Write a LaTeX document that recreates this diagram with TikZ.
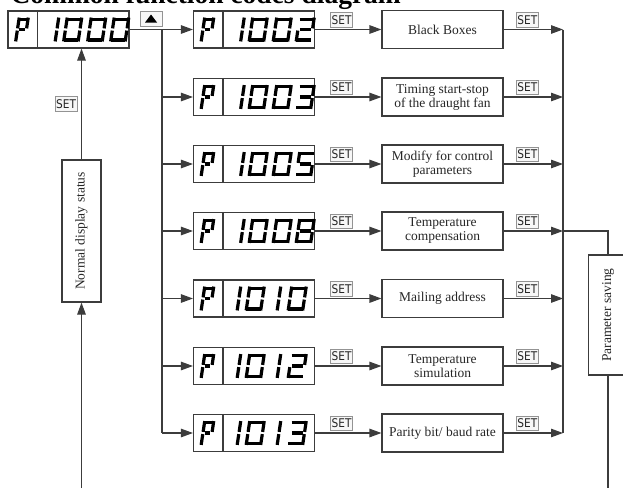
\documentclass[tikz,border=0pt]{standalone}
\usepackage{fontspec}
\setmainfont{Liberation Serif}
\newfontfamily\keyfont{DejaVu Sans}
\usepackage{graphicx}
\usetikzlibrary{arrows.meta}

\definecolor{framegray}{HTML}{3C3C3C}
\definecolor{keygray}{HTML}{939393}

% seven-segment glyphs (gap at the middle joints, half height, corner overlap)
\def\seggap{1.1}\def\seghalf{10.4}\def\segover{11.9}
\def\sega{(0,-\seghalf) -- (\segw,-\seghalf)}
\def\segb{(\segw,-\segover) -- (\segw,-\seggap)}
\def\segc{(\segw,\seggap) -- (\segw,\segover)}
\def\segd{(0,\seghalf) -- (\segw,\seghalf)}
\def\sege{(0,\seggap) -- (0,\segover)}
\def\segf{(0,-\segover) -- (0,-\seggap)}
\def\segg{(\seggap+0.8,0) -- (\segw-\seggap-0.8,0)}
\def\digP{a,b,f,e,g}
\def\digone{e,f}
\def\digzero{a,b,c,d,e,f}
\def\digtwo{a,b,g,e,d}
\def\digthree{a,b,g,c,d}
\def\digfive{a,f,g,c,d}
\def\digeight{a,b,c,d,e,f,g}

\newcommand\segglyph[4]{% display, offset, width, segments
  \begin{scope}[shift={(#1.west)},shift={(#2,0)},xslant=0.15]
    \def\segw{#3}
    \foreach \s in #4 {\expandafter\let\expandafter\segpath\csname seg\s\endcsname
      \draw[segline] \segpath;}
  \end{scope}}
\newcommand\pcodeA[2]{% P 100x
  \draw[frame] ([xshift=30pt]#1.north west) -- ([xshift=30pt]#1.south west);
  \segglyph{#1}{10}{9}{\digP}
  \segglyph{#1}{49.5}{0}{\digone}
  \segglyph{#1}{58}{14.5}{\digzero} \segglyph{#1}{82}{14.5}{\digzero}
  \segglyph{#1}{105}{14.5}{#2}}
\newcommand\pcodeB[2]{% P 10 1x
  \draw[frame] ([xshift=30pt]#1.north west) -- ([xshift=30pt]#1.south west);
  \segglyph{#1}{10}{9}{\digP}
  \segglyph{#1}{46}{0}{\digone} \segglyph{#1}{55}{14.5}{\digzero}
  \segglyph{#1}{86}{0}{\digone} \segglyph{#1}{97}{14.5}{#2}}
\newcommand\keySET{\scalebox{0.88}[1]{SET}}

\begin{document}
\begin{tikzpicture}[x=1pt,y=-1pt,
  frame/.style={draw=framegray,line width=1.1pt},
  segline/.style={black,line width=3.2pt},
  arr/.style={framegray,line width=1.1pt,-{Triangle[length=12pt,width=8.5pt]}},
  line/.style={framegray,line width=1.1pt},
  disp/.style={frame,minimum width=121pt,minimum height=37pt,inner sep=0pt},
  func/.style={frame,minimum width=121pt,minimum height=38pt,align=center,
    text=black!85,font=\fontsize{13.5}{14}\selectfont},
  vbox/.style={frame,rotate=90,minimum height=39pt,text=black!85,
    font=\fontsize{13.5}{14}\selectfont},
  setkey/.style={draw=keygray,line width=0.7pt,fill=black!3,inner sep=0pt,
    minimum width=22pt,minimum height=14.5pt,text=black!85,
    font=\keyfont\fontsize{12}{12}\selectfont},
  upkey/.style={setkey,minimum height=15pt,path picture={\fill[black]
    (path picture bounding box.center) ++(-6pt,-4pt) -- ++(12pt,0pt) -- ++(-6pt,8pt) -- cycle;}}]
  \useasboundingbox (0,0) rectangle (623,488);
  \node[anchor=base west,font=\bfseries\fontsize{27.5}{30}\selectfont] (title) at (7,3) {Common function codes diagram};

  % displays
  \node[disp] (p1000) at (68.5,29.5) {};
  \node[disp] (p1002) at (254,29.5) {}; \node[disp] (p1003) at (254,97) {};
  \node[disp] (p1005) at (254,164) {};  \node[disp] (p1008) at (254,231) {};
  \node[disp] (p1010) at (254,298.5) {}; \node[disp] (p1012) at (254,366) {};
  \node[disp] (p1013) at (254,433) {};
  \pcodeA{p1000}{\digzero} \pcodeA{p1002}{\digtwo} \pcodeA{p1003}{\digthree}
  \pcodeA{p1005}{\digfive} \pcodeA{p1008}{\digeight}
  \pcodeB{p1010}{\digzero} \pcodeB{p1012}{\digtwo} \pcodeB{p1013}{\digthree}
  \node[upkey] (up) at (151,18.5) {};

  % function boxes
  \node[func] (black) at (442.5,29.5) {Black Boxes};
  \node[func] (timing) at (442.5,97) {Timing start-stop\\of the draught fan};
  \node[func] (modify) at (442.5,164) {Modify for control\\parameters};
  \node[func] (tcomp) at (442.5,231) {Temperature\\compensation};
  \node[func] (mail) at (442.5,298.5) {Mailing address};
  \node[func] (tsim) at (442.5,366) {Temperature\\simulation};
  \node[func] (parity) at (442.5,433) {Parity bit/ baud rate};
  \node[vbox,minimum width=142pt] (normal) at (81.5,231) {Normal display status};
  \node[vbox,minimum width=120pt] (save) at (608,315) {Parameter saving};

  \coordinate (fork) at (162,29.5); \coordinate (forkend) at (162,433);
  \coordinate (join) at (563,29.5); \coordinate (joinend) at (563,433);
  \coordinate (normbot) at (81.5,488); \coordinate (savebot) at (608,488);

  % left side
  \draw[arr] (normbot) -- (normal);
  \draw[arr] (normal) -- node[setkey,left=4pt] (s0) {\keySET} (normal |- p1000.south);
  \draw[arr] (p1000) -- (p1002);
  \draw[line] (fork) -- (forkend);
  \draw[arr] (fork |- p1003) -- (p1003); \draw[arr] (fork |- p1005) -- (p1005);
  \draw[arr] (fork |- p1008) -- (p1008); \draw[arr] (fork |- p1010) -- (p1010);
  \draw[arr] (fork |- p1012) -- (p1012); \draw[arr] (forkend) -- (p1013);

  % middle
  \draw[arr] (p1002) -- node[setkey,pos=0.4,above=2.2pt] (s1) {\keySET} (black);
  \draw[arr] (p1003) -- node[setkey,pos=0.4,above=2.2pt] (s2) {\keySET} (timing);
  \draw[arr] (p1005) -- node[setkey,pos=0.4,above=2.2pt] (s3) {\keySET} (modify);
  \draw[arr] (p1008) -- node[setkey,pos=0.4,above=2.2pt] (s4) {\keySET} (tcomp);
  \draw[arr] (p1010) -- node[setkey,pos=0.4,above=2.2pt] (s5) {\keySET} (mail);
  \draw[arr] (p1012) -- node[setkey,pos=0.4,above=2.2pt] (s6) {\keySET} (tsim);
  \draw[arr] (p1013) -- node[setkey,pos=0.4,above=2.2pt] (s7) {\keySET} (parity);

  % right side
  \draw[arr] (black) -- node[setkey,pos=0.4,above=2.2pt] (t1) {\keySET} (join);
  \draw[arr] (timing) -- node[setkey,pos=0.4,above=2.2pt] (t2) {\keySET} (join |- timing);
  \draw[arr] (modify) -- node[setkey,pos=0.4,above=2.2pt] (t3) {\keySET} (join |- modify);
  \draw[arr] (tcomp) -- node[setkey,pos=0.4,above=2.2pt] (t4) {\keySET} (join |- tcomp);
  \draw[arr] (mail) -- node[setkey,pos=0.4,above=2.2pt] (t5) {\keySET} (join |- mail);
  \draw[arr] (tsim) -- node[setkey,pos=0.4,above=2.2pt] (t6) {\keySET} (join |- tsim);
  \draw[arr] (parity) -- node[setkey,pos=0.4,above=2.2pt] (t7) {\keySET} (joinend);
  \draw[line] (join) -- (joinend);
  \draw[line] (join |- tcomp) -| (save);
  \draw[line] (save) -- (savebot);
\end{tikzpicture}
\end{document}
